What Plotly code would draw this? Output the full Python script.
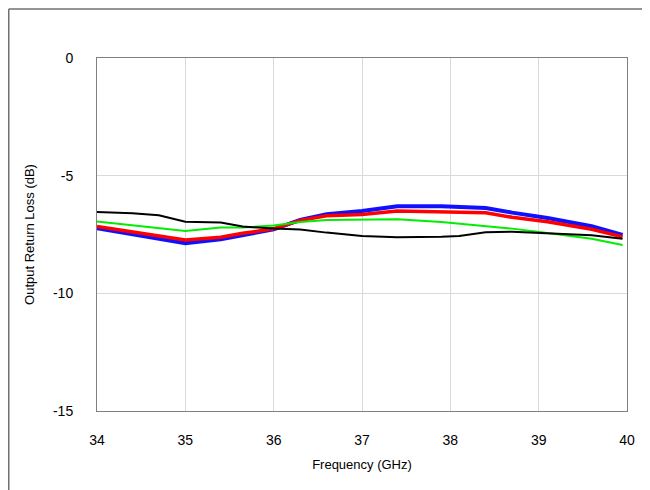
import plotly.graph_objects as go

freq = [34.0, 34.4, 34.7, 35.0, 35.4, 35.65, 36.0, 36.3, 36.6, 37.0, 37.4, 37.9, 38.1, 38.4, 38.7, 39.1, 39.6, 39.95]
black = [-6.54, -6.60, -6.68, -6.96, -6.99, -7.16, -7.25, -7.29, -7.42, -7.56, -7.62, -7.60, -7.56, -7.40, -7.38, -7.46, -7.53, -7.68]
green = [-6.95, -7.10, -7.22, -7.35, -7.20, -7.20, -7.12, -6.97, -6.88, -6.88, -6.85, -6.97, -7.04, -7.12, -7.25, -7.44, -7.68, -7.95]
red = [-7.16, -7.38, -7.55, -7.73, -7.62, -7.45, -7.26, -6.90, -6.70, -6.65, -6.50, -6.54, -6.56, -6.58, -6.77, -6.96, -7.28, -7.60]
blue = [-7.23, -7.48, -7.65, -7.87, -7.70, -7.52, -7.28, -6.88, -6.64, -6.50, -6.30, -6.30, -6.32, -6.37, -6.57, -6.80, -7.15, -7.52]

x_ticks = [34, 35, 36, 37, 38, 39, 40]
y_ticks = [0, -5, -10, -15]
y_tick_text = ["0", "-5", "-10", "-15"]

fig = go.Figure()
fig.add_trace(go.Scatter(x=freq, y=blue, mode="lines", line=dict(color="#1010ff", width=4)))
fig.add_trace(go.Scatter(x=freq, y=red, mode="lines", line=dict(color="#ff0000", width=3.5)))
fig.add_trace(go.Scatter(x=freq, y=green, mode="lines", line=dict(color="#00ee00", width=2)))
fig.add_trace(go.Scatter(x=freq, y=black, mode="lines", line=dict(color="#000000", width=2)))

frame_line = dict(color="#707070", width=1.5)
fig.update_layout(
    width=650, height=490,
    margin=dict(l=89, r=31, t=50, b=87),
    paper_bgcolor="white", plot_bgcolor="white",
    showlegend=False,
    font=dict(family="Liberation Sans, Arial, sans-serif", size=12, color="#000"),
    xaxis=dict(range=[34, 40], tickvals=x_ticks, showgrid=True, gridcolor="#d9d9d9", gridwidth=1,
               showline=True, linecolor="#808080", linewidth=1, mirror=True, zeroline=False,
               ticks="", ticklabelstandoff=16, tickfont=dict(size=14),
               title=dict(text="Frequency (GHz)", standoff=13, font=dict(size=13))),
    yaxis=dict(range=[-15, 0], tickvals=y_ticks, ticktext=y_tick_text, showgrid=True, gridcolor="#d9d9d9", gridwidth=1,
               showline=True, linecolor="#808080", linewidth=1, mirror=True, zeroline=False,
               ticks="", ticklabelstandoff=20, tickfont=dict(size=14),
               title=dict(text="Output Return Loss (dB)", standoff=15, font=dict(size=13))),
    shapes=[
        dict(type="line", xref="paper", yref="paper", x0=-0.1665, x1=-0.1665, y0=-0.3, y1=1.139,
             line=frame_line, layer="below"),
        dict(type="line", xref="paper", yref="paper", x0=-0.1665, x1=1.2, y0=1.139, y1=1.139,
             line=frame_line, layer="below"),
    ],
)

fig.write_html("out.html")
